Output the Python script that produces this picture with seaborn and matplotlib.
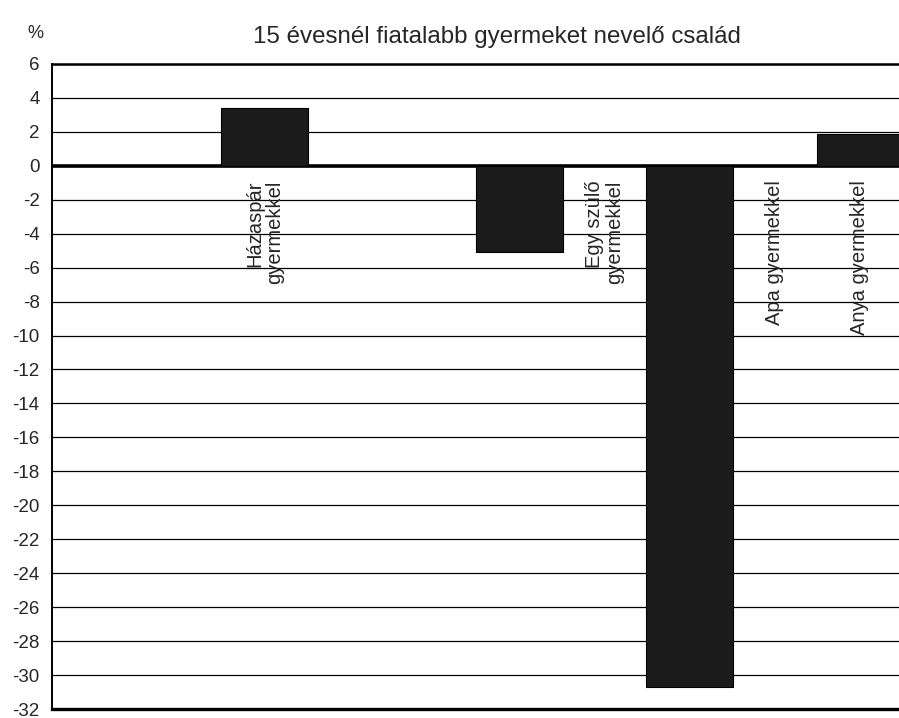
import matplotlib
matplotlib.use("Agg")
import matplotlib.pyplot as plt
import pandas as pd
import seaborn as sns

# family types, change in %
categories = ["Házaspár\ngyermekkel", "Egy szülő\ngyermekkel", "Apa gyermekkel", "Anya gyermekkel"]
values = [3.4, -5.1, -30.7, 1.9]

# the chart has empty category slots between the bars
n_slots = 10
bar_slots = [2, 5, 7, 9]
label_slots = [2, 6, 8, 9]

title = "15 évesnél fiatalabb gyermeket nevelő család"

sns.set_style("white")
plt.rcParams["font.family"] = ["Liberation Sans", "DejaVu Sans"]
plt.rcParams["axes.unicode_minus"] = False

slot_names = [f"slot{i}" for i in range(n_slots)]
df = pd.DataFrame({"slot": [slot_names[i] for i in bar_slots], "value": values})

fig = plt.figure(figsize=(8.99, 7.18), dpi=100)
ax = fig.add_axes([0.058, 0.0125, 0.942, 0.8985])

ax.yaxis.grid(True, color="black", lw=0.9)
ax.set_axisbelow(True)
ax.axhline(0, color="black", lw=2.6, zorder=1)

sns.barplot(data=df, x="slot", y="value", order=slot_names, color="#1b1b1b",
            saturation=1, width=1.02, edgecolor="black", linewidth=0.8, ax=ax, zorder=2)

for name, slot in zip(categories, label_slots):
    ax.text(slot, -0.85, name, rotation=90, ha="center", va="top",
            multialignment="right", fontsize=14.5, linespacing=1.05, zorder=3)

ax.set_xlim(-0.5, 9.46)
ax.set_ylim(-32, 6)
ax.set_yticks(range(-32, 7, 2))
ax.set_xticks([])
ax.set_xlabel("")
ax.set_ylabel("")
ax.tick_params(axis="y", labelsize=13.5, length=3.6, width=1, color="black", direction="out", pad=5.5)

ax.spines["right"].set_visible(False)
ax.spines["left"].set_color("black")
ax.spines["left"].set_linewidth(1.4)
ax.spines["bottom"].set_color("black")
ax.spines["bottom"].set_linewidth(2.4)
ax.spines["top"].set_color("black")
ax.spines["top"].set_linewidth(1.8)

fig.text(0.553, 0.949, title, ha="center", va="center", fontsize=17.4)
fig.text(0.039, 0.954, "%", ha="center", va="center", fontsize=13)

plt.savefig("out.png", dpi=100)
